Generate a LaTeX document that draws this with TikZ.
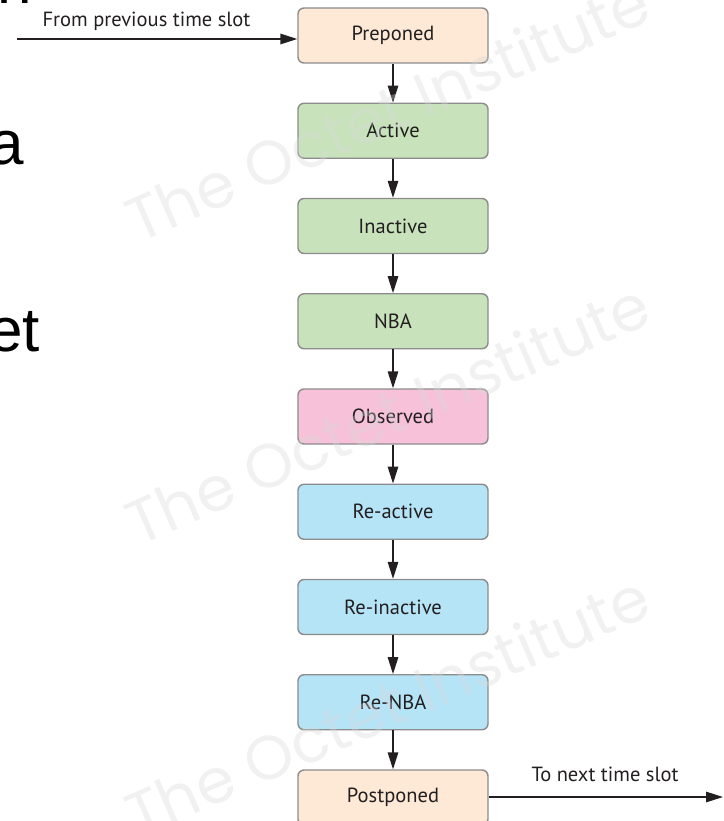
\documentclass[tikz,border=0pt]{standalone}
\usepackage{fontspec}
\setmainfont{PT Sans}
\newfontfamily\slidefont{Liberation Sans}
\newfontfamily\wmfont{Poppins}
\usetikzlibrary{arrows.meta}
\definecolor{ink}{HTML}{231F20}
\definecolor{edge}{HTML}{8C8C8C}
\definecolor{peach}{HTML}{FDE9D6}
\definecolor{leaf}{HTML}{C8E3BC}
\definecolor{rose}{HTML}{F7C1DA}
\definecolor{sky}{HTML}{B6E4F7}
\definecolor{mark}{HTML}{D8D8D8}

\begin{document}
\begin{tikzpicture}[x=1pt,y=-1pt,
  region/.style={draw=edge, line width=1.4pt, rounded corners=6pt,
    minimum width=190pt, minimum height=55pt, inner sep=0pt,
    text=ink, font=\fontsize{20.5}{20.5}\selectfont},
  flow/.style={draw=ink, line width=1.4pt, -{Triangle[length=17pt,width=10.5pt]}},
  note/.style={text=ink, font=\fontsize{20.5}{20.5}\selectfont, inner sep=0pt, anchor=base},
  slide/.style={font=\slidefont\fontsize{62}{62}\selectfont, inner sep=0pt, anchor=base west},
  stamp/.style={text=mark, opacity=0.35, font=\wmfont\fontsize{62}{62}\selectfont,
    rotate=23.5, inner sep=0pt}
]
\useasboundingbox (0,0) rectangle (723,821);
\clip (0,0) rectangle (723,821);

% text bleeding in from the slide on the left
\node[slide] (s1) at (-3,4) {n};
\node[slide] (s2) at (-10.4,165) {a};
\node[slide] (s3) at (-12,351) {et};

% scheduling regions of one time slot
\node[region, fill=peach] (pre)   at (393,35.5)   {Preponed};
\node[region, fill=leaf]  (act)   at (393,130.75) {Active};
\node[region, fill=leaf]  (inact) at (393,226)    {Inactive};
\node[region, fill=leaf]  (nba)   at (393,321.25) {NBA};
\node[region, fill=rose]  (obs)   at (393,416.5)  {Observed};
\node[region, fill=sky]   (ract)  at (393,511.75) {Re-active};
\node[region, fill=sky]   (rinact) at (393,607)   {Re-inactive};
\node[region, fill=sky]   (rnba)  at (393,702.25) {Re-NBA};
\node[region, fill=peach] (post)  at (393,797.5)  {Postponed};

\draw[flow] (pre) -- (act);
\draw[flow] (act) -- (inact);
\draw[flow] (inact) -- (nba);
\draw[flow] (nba) -- (obs);
\draw[flow] (obs) -- (ract);
\draw[flow] (ract) -- (rinact);
\draw[flow] (rinact) -- (rnba);
\draw[flow] (rnba) -- (post);

% entry and exit of the time slot
\coordinate (src) at (17,39);
\draw[flow] (src) -- (src -| pre.west);
\node[note] (srclbl) at (146.5,26.7) {From previous time slot};

\coordinate (dst) at (723,797);
\draw[flow] (post.east |- dst) -- (dst);
\node[note] (dstlbl) at (605,781.7) {To next time slot};

% watermark
\node[stamp] (wm1) at (387,110) {The Octet Institute};
\node[stamp] (wm2) at (387,413) {The Octet Institute};
\node[stamp] (wm3) at (387,705) {The Octet Institute};
\end{tikzpicture}
\end{document}
